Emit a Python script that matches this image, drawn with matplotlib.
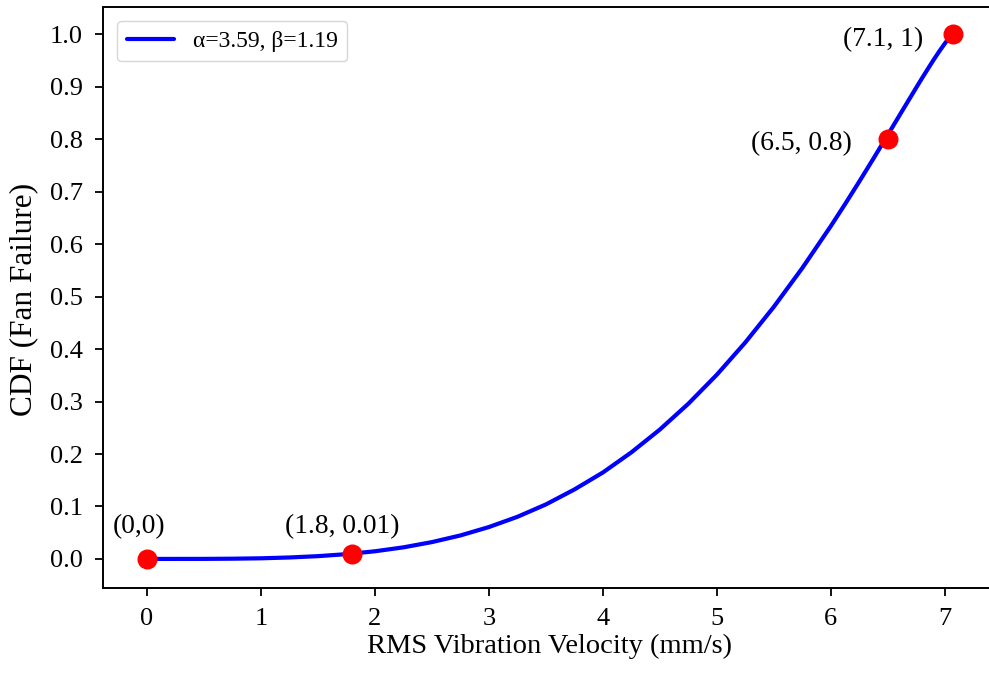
import matplotlib
matplotlib.use("Agg")
import matplotlib.pyplot as plt

# fitted CDF curve
curve_x = [0.0, 0.5, 0.75, 1.0, 1.25, 1.5, 1.75, 2.0, 2.25, 2.5, 2.75, 3.0,
           3.25, 3.5, 3.75, 4.0, 4.25, 4.5, 4.75, 5.0, 5.25, 5.5, 5.75, 6.0,
           6.125, 6.25, 6.375, 6.5, 6.625, 6.75, 6.8, 6.875, 6.9, 6.95, 7.0,
           7.025, 7.05, 7.06, 7.07]
curve_y = [0.0, 0.0001, 0.00045, 0.0012, 0.0028, 0.0053, 0.0091, 0.0146,
           0.0221, 0.0321, 0.0448, 0.0608, 0.0803, 0.1039, 0.1324, 0.1648,
           0.2032, 0.2467, 0.2959, 0.3512, 0.4128, 0.4806, 0.5546, 0.6345,
           0.6764, 0.7195, 0.7636, 0.8085, 0.8537, 0.8986, 0.9164, 0.9423,
           0.9508, 0.9672, 0.9825, 0.9896, 0.9960, 0.9983, 1.0]

# marked points and their labels
point_x = [0.0, 1.8, 6.5, 7.07]
point_y = [0.0, 0.01, 0.8, 1.0]
point_labels = ["(0,0)", "(1.8, 0.01)", "(6.5, 0.8)", "(7.1, 1)"]

legend_label = "α=3.59, β=1.19"
x_label = "RMS Vibration Velocity (mm/s)"
y_label = "CDF (Fan Failure)"

plt.rcParams["font.family"] = ["Liberation Serif", "DejaVu Serif"]

fig = plt.figure(figsize=(9.89, 6.73), dpi=100)
ax = fig.add_axes([103.3 / 989, 84.7 / 673, 892.7 / 989, 581.6 / 673])

ax.plot(curve_x, curve_y, color="blue", linewidth=3.0, label=legend_label,
        zorder=2, solid_capstyle="round")
ax.scatter(point_x, point_y, color="red", s=180, zorder=3)

# label offsets in points, and alignment per label
offsets = [(-5.8, 23.0), (-7.2, 19.5), (-26.0, -3.0), (-21.0, -4.0)]
aligns = ["center", "center", "right", "right"]
for px, py, text, off, ha in zip(point_x, point_y, point_labels, offsets, aligns):
    ax.annotate(text, (px, py), xytext=off, textcoords="offset points",
                ha=ha, va="center", fontsize=19.8)

ax.set_xlim(-0.384, 7.45)
ax.set_ylim(-0.056, 1.053)
ax.set_xticks(range(8))
ax.set_yticks([i / 10 for i in range(11)])
ax.set_yticklabels([f"{i / 10:.1f}" for i in range(11)])
ax.tick_params(labelsize=19, length=5.8, width=1.3)
ax.tick_params(axis="x", pad=8.5)
ax.tick_params(axis="y", pad=9.0)
for spine in ax.spines.values():
    spine.set_linewidth(1.4)
ax.spines["right"].set_visible(False)

ax.set_xlabel(x_label, fontsize=20.5, labelpad=3)
ax.set_ylabel(y_label, fontsize=22.5)
ax.yaxis.set_label_coords(-0.073, 0.497)

ax.legend(loc="upper left", fontsize=17, handlelength=2.0, borderaxespad=0.6)

fig.savefig("out.png", dpi=100)
